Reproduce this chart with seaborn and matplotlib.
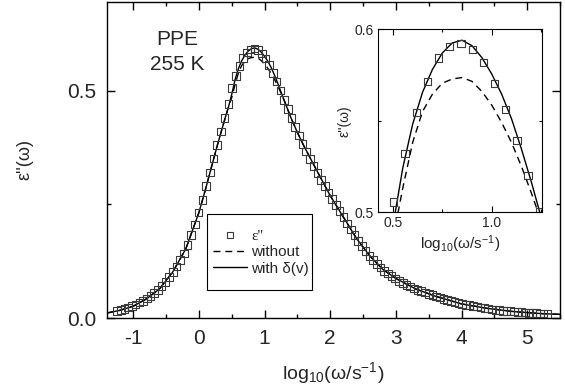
"""Dielectric loss of PPE at 255 K with inset around the peak."""

import matplotlib

matplotlib.use("Agg")
import matplotlib.pyplot as plt
import seaborn as sns
from matplotlib.lines import Line2D
from matplotlib.patches import Rectangle
from matplotlib.ticker import FormatStrFormatter, MultipleLocator

# measured loss, log10(omega/s^-1) vs eps''
data_x = [
    -1.247, -1.190, -1.134, -1.077, -1.021, -0.964, -0.908, -0.851, -0.795, -0.738,
    -0.682, -0.625, -0.569, -0.512, -0.456, -0.399, -0.343, -0.286, -0.230, -0.173,
    -0.117, -0.060, -0.004, 0.053, 0.109, 0.166, 0.222, 0.279, 0.335, 0.392,
    0.448, 0.505, 0.562, 0.618, 0.675, 0.731, 0.788, 0.844, 0.901, 0.957,
    1.014, 1.070, 1.127, 1.183, 1.240, 1.296, 1.353, 1.409, 1.466, 1.522,
    1.579, 1.635, 1.692, 1.748, 1.805, 1.861, 1.918, 1.974, 2.031, 2.087,
    2.144, 2.200, 2.257, 2.313, 2.370, 2.426, 2.483, 2.539, 2.596, 2.652,
    2.709, 2.765, 2.822, 2.878, 2.935, 2.991, 3.048, 3.104, 3.161, 3.217,
    3.274, 3.330, 3.387, 3.443, 3.500, 3.556, 3.613, 3.669, 3.726, 3.782,
    3.839, 3.895, 3.952, 4.008, 4.065, 4.121, 4.178, 4.234, 4.291, 4.347,
    4.404, 4.460, 4.517, 4.573, 4.630, 4.686, 4.743, 4.799, 4.856, 4.912,
    4.969, 5.025, 5.082, 5.138, 5.195, 5.251, 5.308,
]
data_y = [
    0.016, 0.018, 0.020, 0.023, 0.026, 0.030, 0.034, 0.038, 0.043, 0.049,
    0.055, 0.062, 0.070, 0.079, 0.090, 0.101, 0.113, 0.127, 0.142, 0.160,
    0.182, 0.206, 0.232, 0.260, 0.290, 0.320, 0.351, 0.381, 0.410, 0.440,
    0.470, 0.5055, 0.532, 0.5546, 0.5716, 0.5842, 0.5907, 0.5923, 0.589, 0.582,
    0.5705, 0.556, 0.539, 0.520, 0.500, 0.480, 0.460, 0.440, 0.420, 0.401,
    0.383, 0.366, 0.350, 0.334, 0.319, 0.304, 0.290, 0.276, 0.262, 0.248,
    0.235, 0.222, 0.208, 0.195, 0.182, 0.170, 0.158, 0.147, 0.137, 0.128,
    0.119, 0.111, 0.104, 0.098, 0.092, 0.087, 0.082, 0.077, 0.073, 0.069,
    0.065, 0.062, 0.059, 0.056, 0.053, 0.050, 0.047, 0.045, 0.042, 0.040,
    0.037, 0.035, 0.033, 0.031, 0.029, 0.028, 0.026, 0.025, 0.023, 0.022,
    0.021, 0.019, 0.018, 0.017, 0.016, 0.0155, 0.0148, 0.014, 0.0133, 0.0126,
    0.012, 0.0115, 0.011, 0.0105, 0.010, 0.0097, 0.0094,
]

# fits: without and with delta(v)
fit_x = [
    -1.4, -1.2, -1.0, -0.8, -0.6, -0.4, -0.2, 0.0, 0.1, 0.2, 0.3, 0.4, 0.45,
    0.5, 0.55, 0.6, 0.65, 0.7, 0.75, 0.8, 0.85, 0.9, 0.95, 1.0, 1.05, 1.1,
    1.15, 1.2, 1.25, 1.3, 1.4, 1.5, 1.6, 1.8, 2.0, 2.2, 2.4, 2.6, 2.8, 3.0,
    3.3, 3.6, 4.0, 4.4, 4.8, 5.2, 5.5,
]
fit_with = [
    0.011, 0.017, 0.026, 0.042, 0.064, 0.101, 0.152, 0.232, 0.283, 0.337,
    0.390, 0.440, 0.464, 0.492, 0.524, 0.548, 0.5655, 0.578, 0.587, 0.5925,
    0.594, 0.591, 0.5845, 0.5755, 0.5645, 0.551, 0.5345, 0.5165, 0.497, 0.478,
    0.441, 0.408, 0.378, 0.323, 0.269, 0.222, 0.175, 0.137, 0.107, 0.087,
    0.064, 0.048, 0.031, 0.021, 0.014, 0.0098, 0.008,
]
fit_without = [
    0.011, 0.017, 0.026, 0.042, 0.064, 0.101, 0.152, 0.232, 0.283, 0.337,
    0.390, 0.440, 0.464, 0.485, 0.513, 0.538, 0.555, 0.5645, 0.5705, 0.5728,
    0.5736, 0.5715, 0.566, 0.5585, 0.549, 0.538, 0.525, 0.5105, 0.495, 0.478,
    0.441, 0.408, 0.378, 0.323, 0.269, 0.222, 0.175, 0.137, 0.107, 0.087,
    0.064, 0.048, 0.031, 0.021, 0.014, 0.0098, 0.008,
]

sns.set_style("ticks")
plt.rcParams["font.family"] = ["Liberation Sans", "DejaVu Sans"]
plt.rcParams["mathtext.fontset"] = "custom"
plt.rcParams["mathtext.rm"] = "Liberation Sans"
plt.rcParams["mathtext.it"] = "Liberation Sans:italic"
plt.rcParams["xtick.direction"] = "in"
plt.rcParams["ytick.direction"] = "in"
plt.rcParams["axes.unicode_minus"] = False

SQ_COLOR = "#3a3a3a"
DASH = (0, (5, 3.5))
XLABEL = "log$_{10}$(ω/s$^{-1}$)"
YLABEL = "ε''(ω)"


def draw(ax, sq_size, lw):
    sns.lineplot(x=fit_x, y=fit_without, color="black", lw=lw, ax=ax,
                 sort=False, estimator=None, linestyle=DASH)
    sns.lineplot(x=fit_x, y=fit_with, color="black", lw=lw, ax=ax,
                 sort=False, estimator=None)
    sns.scatterplot(x=data_x, y=data_y, marker="s", s=sq_size,
                    facecolors="none", edgecolor=SQ_COLOR, linewidth=0.8,
                    ax=ax, zorder=3)


def frame(ax, width):
    for sp in ax.spines.values():
        sp.set_linewidth(width)
        sp.set_color("black")
    ax.tick_params(which="both", top=True, right=True, width=width,
                   color="black")


fig = plt.figure(figsize=(5.65, 3.85), dpi=100)
ax = fig.add_axes([0.1894, 0.174, 0.8018, 0.822])
draw(ax, 30, 1.0)
ax.set_xlim(-1.4, 5.5)
ax.set_ylim(0.0, 0.696)
ax.xaxis.set_major_locator(MultipleLocator(1))
ax.xaxis.set_minor_locator(MultipleLocator(0.5))
ax.yaxis.set_major_locator(MultipleLocator(0.5))
ax.yaxis.set_minor_locator(MultipleLocator(0.25))
ax.yaxis.set_major_formatter(FormatStrFormatter("%.1f"))
frame(ax, 1.0)
ax.tick_params(which="major", length=6, labelsize=15, pad=8)
ax.tick_params(which="minor", length=3)
ax.set_xlabel(XLABEL, fontsize=14)
ax.xaxis.set_label_coords(0.5, -0.133)
ax.xaxis.label.set_va("top")
ax.set_ylabel(YLABEL, fontsize=13)
ax.yaxis.set_label_coords(-0.162, 0.5)

ax.text(0.155, 0.88, "PPE", transform=ax.transAxes, fontsize=15,
        ha="center", va="center")
ax.text(0.155, 0.80, "255 K", transform=ax.transAxes, fontsize=15,
        ha="center", va="center")

handles = [
    Line2D([], [], marker="s", ls="none", mfc="none", mec=SQ_COLOR, ms=5,
           mew=0.8),
    Line2D([], [], color="black", lw=1.0, ls=DASH),
    Line2D([], [], color="black", lw=1.0),
]
leg = ax.legend(handles, ["ε''", "without", "with δ(v)"], loc="center left",
                bbox_to_anchor=(0.234, 0.207), fontsize=11, frameon=False,
                handlelength=2.2, handletextpad=0.3, labelspacing=0.15,
                borderpad=0, borderaxespad=0)
leg.get_texts()[0].set_family("Liberation Serif")
ax.add_patch(Rectangle((0.221, 0.088), 0.232, 0.240, transform=ax.transAxes,
                       fill=False, edgecolor="black", lw=0.8, zorder=4))

# inset around the maximum
ins = fig.add_axes([0.669, 0.449, 0.290, 0.475])
draw(ins, 28, 1.0)
ins.set_xlim(0.425, 1.253)
ins.set_ylim(0.5, 0.6)
ins.xaxis.set_major_locator(MultipleLocator(0.5))
ins.xaxis.set_minor_locator(MultipleLocator(0.25))
ins.yaxis.set_major_locator(MultipleLocator(0.1))
ins.yaxis.set_minor_locator(MultipleLocator(0.05))
ins.xaxis.set_major_formatter(FormatStrFormatter("%.1f"))
ins.yaxis.set_major_formatter(FormatStrFormatter("%.1f"))
frame(ins, 0.8)
ins.tick_params(which="major", length=4, labelsize=10, pad=3)
ins.tick_params(which="minor", length=2.5)
ins.set_xlabel(XLABEL, fontsize=11, labelpad=2)
ins.set_ylabel(YLABEL, fontsize=10, labelpad=2)

fig.savefig("out.png", dpi=100)
